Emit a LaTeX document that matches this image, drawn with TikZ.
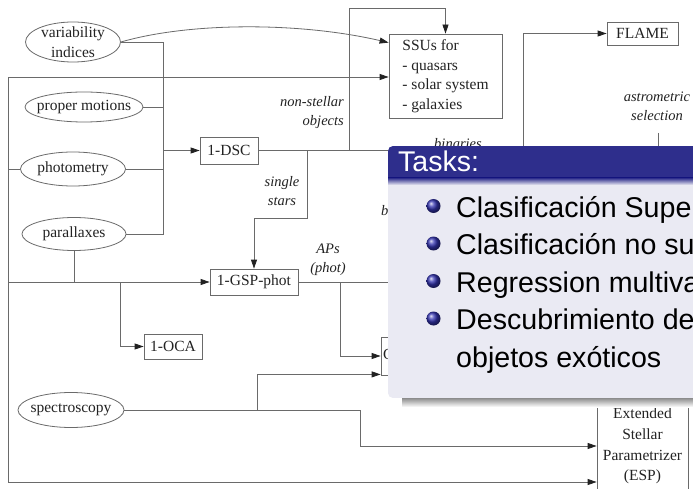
\documentclass[tikz,border=0pt]{standalone}
\usepackage{fontspec}
\setmainfont{Liberation Serif}
\newfontfamily\slidefont{Liberation Sans}
\usetikzlibrary{arrows.meta,shapes.geometric,calc}

\definecolor{wire}{HTML}{6A6A6A}
\definecolor{ink}{HTML}{222222}
\definecolor{titlebg}{HTML}{2E2E8C}
\definecolor{bodybg}{HTML}{EAEAF3}
\definecolor{ballblue}{HTML}{3434B0}

\begin{document}
\begin{tikzpicture}[x=1pt,y=-1pt,
  every node/.style={text=ink},
  txt/.style={font=\fontsize{15.5}{20}\selectfont, align=center, inner sep=0pt},
  src/.style={draw=wire, line width=0.8pt, ellipse, inner sep=0pt},
  proc/.style={draw=wire, line width=0.8pt, rectangle, inner sep=0pt,
               font=\fontsize{15.5}{20}\selectfont, align=center},
  wirel/.style={draw=wire, line width=0.8pt},
  arr/.style={wirel, -{Triangle[length=9pt,width=6pt,color=ink]}},
  lab/.style={font=\itshape\fontsize{14.5}{19}\selectfont, align=center, inner sep=0pt},
  slide/.style={font=\slidefont\fontsize{28.6}{33}\selectfont, inner sep=0pt, anchor=base west, text=black},
]
\useasboundingbox (0,0) rectangle (693,489);
\clip (0,0) rectangle (693,489);
\fill[white] (0,0) rectangle (693,489);

% data sources
\node[src, minimum width=95pt, minimum height=40pt] (vi) at (73,42) {};
\node[txt] at (vi) {variability\\indices};
\node[src, minimum width=118pt, minimum height=30pt] (pm) at (84,107) {};
\node[txt] at (pm) {proper motions};
\node[src, minimum width=105pt, minimum height=34pt] (ph) at (73,169) {};
\node[txt] at (ph) {photometry};
\node[src, minimum width=104pt, minimum height=33pt] (pa) at (74,234) {};
\node[txt] at (pa) {parallaxes};
\node[src, minimum width=106pt, minimum height=35pt] (sp) at (71,410) {};
\node[txt] at (sp) {spectroscopy};

% processing units
\node[proc, minimum width=58pt, minimum height=27pt] (dsc) at (229,150.5) {1-DSC};
\node[proc, minimum width=88pt, minimum height=26pt] (gsp) at (254,282) {1-GSP-phot};
\node[proc, minimum width=58pt, minimum height=25pt] (oca) at (173,346.5) {1-OCA};
\node[proc, minimum width=113pt, minimum height=84pt, align=left,
      font=\fontsize{15.5}{19.5}\selectfont] (ssu) at (445.5,76)
      {SSUs for\\- quasars\\- solar system\\- galaxies};
\node[proc, minimum width=71pt, minimum height=23pt] (flame) at (642.5,33.5) {FLAME};
\node[proc, minimum width=98pt, minimum height=38pt, text width=94pt, align=left] (gspec) at (430,356) {GSP-spec};
\node[proc, minimum width=91pt, minimum height=100pt, font=\fontsize{15.5}{20.7}\selectfont] (esp) at (642.5,446)
      {Extended\\Stellar\\Parametrizer\\(ESP)};

% collecting bus of the astrometric and photometric inputs
\coordinate (busx) at (163,0);
\draw[wirel] (vi.east) -- (vi.east -| busx) -- (pa.east -| busx) -- (pa.east);
\draw[wirel] (pm.east) -- (pm.east -| busx);
\draw[wirel] (ph.east) -- (ph.east -| busx);
\draw[arr] (dsc.west -| busx) -- (dsc.west);

% variability indices to the SSUs
\draw[arr] (vi.east) .. controls (190,22) and (300,22) .. ($(ssu.north west)+(0,9)$);

% outer loop on the left
\coordinate (lt) at (8,77);
\coordinate (lb) at (8,482);
\draw[arr] (lb) -- (lt) -- (lt -| ssu.west);
\draw[arr] (lb) -- (lb -| esp.west);
\draw[wirel] (ph.west) -- (ph.west -| lt);
\draw[arr] (gsp.west -| lt) -- (gsp.west);
\draw[wirel] (pa.south) -- (pa.south |- gsp.west);
\coordinate (ocx) at (120,0);
\draw[arr] (gsp.west -| ocx) |- (oca.west);

% outputs of DSC
\coordinate (nsx) at (349,8);
\draw[arr] (dsc.east) -| (nsx) -| (ssu.north);
\draw[wirel] (dsc.east) -- ++(260,0);
\coordinate (ss) at (307,218);
\draw[arr] (dsc.east) -| (ss) -| (gsp.north);
\coordinate (fx) at (523,150.5);
\draw[arr] (fx) |- (flame.west);
\coordinate (asx) at (658,133);
\draw[wirel] (asx) -- ++(0,30);

% outputs of GSP-phot and spectroscopy
\draw[wirel] (gsp.east) -- ++(120,0);
\coordinate (apx) at (340,282);
\draw[arr] (apx) |- (gspec.west);
\coordinate (s1) at (257,410);
\coordinate (s2) at (360,410);
\draw[arr] (sp.east) -- (s2) |- (esp.west);
\draw[arr] (s1) |- ($(gspec.south west)+(0,-1)$);

% edge labels
\node[lab, align=right, anchor=east] (lns) at (344,113) {non-stellar\\objects};
\node[lab] (lss) at (282,191) {single\\stars};
\node[lab, anchor=base] (lbi) at (458,149) {binaries};
\node[lab, anchor=base west] (lbj) at (381,215) {binaries};
\node[lab] (laps) at (328,260) {APs\\(phot)};
\node[lab] (las) at (657,106) {astrometric\\selection};

% tasks block
\shade[top color=black!45, bottom color=white] (402,398) rectangle (700,407);
\begin{scope}
  \clip[rounded corners=5pt] (388,146) rectangle (720,398);
  \fill[bodybg] (388,146) rectangle (720,398);
  \fill[titlebg] (388,146) rectangle (720,178);
  \shade[top color=titlebg, bottom color=bodybg] (388,178) rectangle (720,185);
\end{scope}
\node[slide, text=white, font=\slidefont\fontsize{28.5}{33}\selectfont] (tt) at (398,172) {Tasks:};
\foreach \yy in {206,243.5,281,318.5} {
  \shade[ball color=ballblue] (433.5,\yy) circle (7);
}
\node[slide] (t1) at (456,217) {Clasificación Supervisada};
\node[slide] (t2) at (456,254.5) {Clasificación no supervisada};
\node[slide] (t3) at (456,292) {Regression multivariante};
\node[slide] (t4) at (456,329.5) {Descubrimiento de};
\node[slide] (t5) at (456,367) {objetos exóticos};
\end{tikzpicture}
\end{document}
